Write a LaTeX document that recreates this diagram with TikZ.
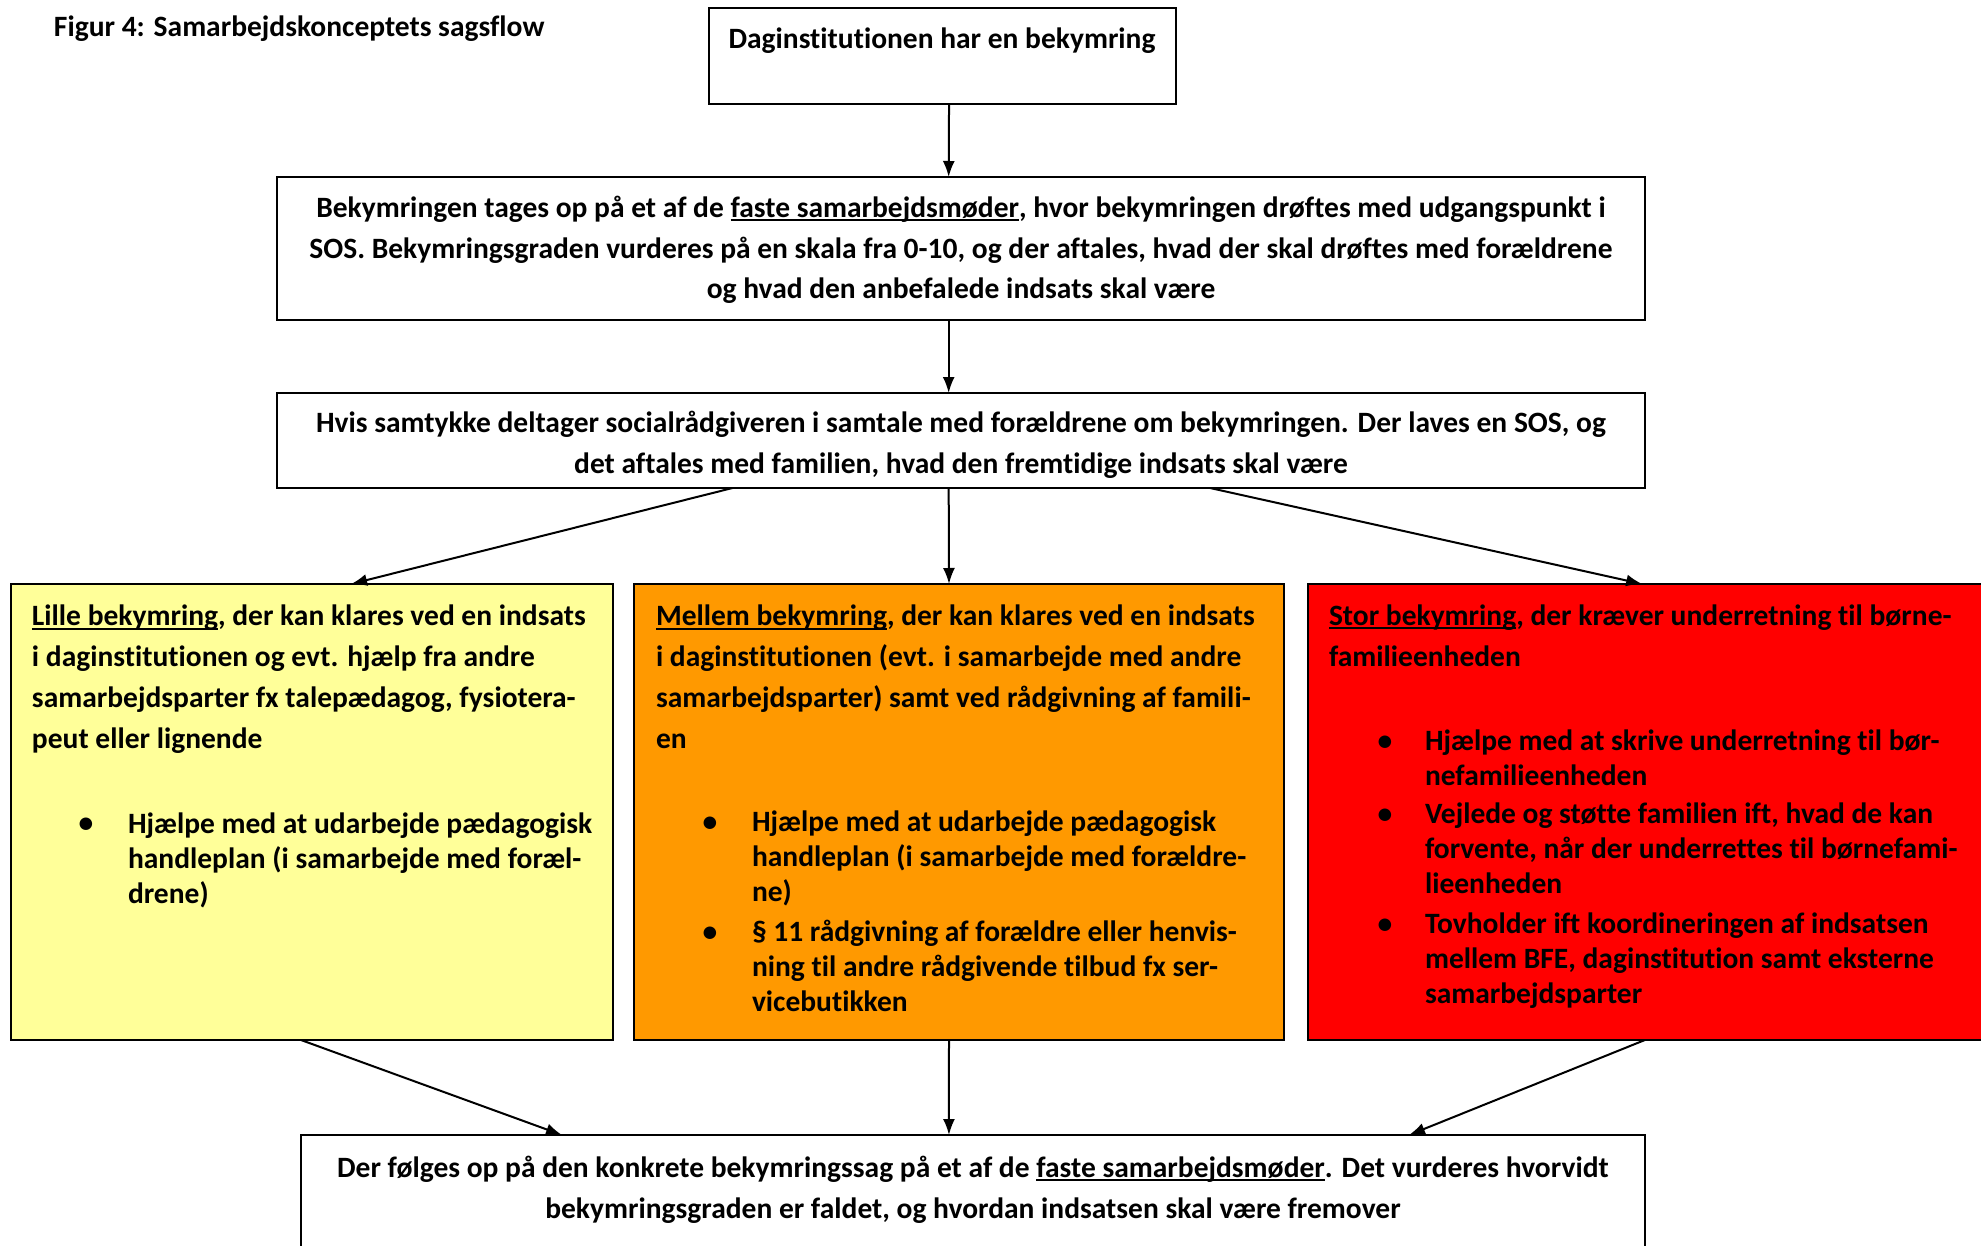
\documentclass[tikz,border=0pt]{standalone}
\usepackage{fontspec}
\setmainfont{Carlito}[RawFeature={-liga}]
\usetikzlibrary{arrows.meta,calc}
\definecolor{lyellow}{HTML}{FFFF99}
\definecolor{lorange}{HTML}{FF9900}
\definecolor{lred}{HTML}{FF0000}
\newsavebox{\ulbox}
\newcommand\myul[1]{\sbox\ulbox{#1}\rlap{\rule[-0.13em]{\wd\ulbox}{0.07em}}\usebox\ulbox}
\newcommand\fpar{\fontsize{14.75}{20.35}\selectfont\bfseries}
\newcommand\fbul{\fontsize{14.75}{17.5}\selectfont\bfseries}
\begin{document}
\begin{tikzpicture}[x=0.5pt,y=-0.5pt,
  box/.style={draw, line width=1.2pt, rectangle, inner sep=0, outer sep=0, anchor=north west},
  arr/.style={line width=1pt, -{Latex[length=8pt,width=6pt]}},
  ctext/.style={font=\fpar, inner sep=0, outer sep=0, anchor=base, align=center},
  ltext/.style={font=\fpar, inner sep=0, outer sep=0, anchor=base west, align=left},
  btext/.style={font=\fbul, inner sep=0, outer sep=0, anchor=base west, align=left},
  bdot/.style={font=\fbul, inner sep=0, outer sep=0, anchor=base}]
\useasboundingbox (0,0) rectangle (1981,1246);
\fill[white] (0,0) rectangle (1981,1246);

% boxes
\node[box, minimum width=233.5pt, minimum height=48pt] (b1) at (709,8) {};
\node[box, minimum width=684pt, minimum height=71.5pt] (b2) at (277,177) {};
\node[box, minimum width=684pt, minimum height=47.5pt] (b3) at (277,393) {};
\node[box, fill=lyellow, minimum width=301pt, minimum height=228pt] (lille) at (11,584) {};
\node[box, fill=lorange, minimum width=325pt, minimum height=228pt] (mellem) at (634,584) {};
\node[box, fill=lred, minimum width=341pt, minimum height=228pt] (stor) at (1308,584) {};
\node[box, minimum width=672pt, minimum height=65pt] (b5) at (301,1135) {};

% title
\node[ltext] (title) at (54,37) {Figur 4: Samarbejdskonceptets sagsflow};

% texts (multi-line nodes are anchored at the baseline of their last line)
\node[ctext] (t1) at (942,49) {Daginstitutionen har en bekymring};
\node[ctext] (t2) at (961,299) {Bekymringen tages op på et af de \myul{faste samarbejdsmøder}, hvor bekymringen drøftes med udgangspunkt i\\
SOS. Bekymringsgraden vurderes på en skala fra 0-10, og der aftales, hvad der skal drøftes med forældrene\\
og hvad den anbefalede indsats skal være};
\node[ctext] (t3) at (961,473) {Hvis samtykke deltager socialrådgiveren i samtale med forældrene om bekymringen. Der laves en SOS, og\\
det aftales med familien, hvad den fremtidige indsats skal være};

\node[ltext] (tl) at (32,748) {\myul{Lille bekymring}, der kan klares ved en indsats\\
i daginstitutionen og evt. hjælp fra andre\\
samarbejdsparter fx talepædagog, fysiotera-\\
peut eller lignende};
\node[bdot] (dl1) at (86,832) {•};
\node[btext] (tl1) at (128,903) {Hjælpe med at udarbejde pædagogisk\\
handleplan (i samarbejde med foræl-\\
drene)};

\node[ltext] (tm) at (656,748) {\myul{Mellem bekymring}, der kan klares ved en indsats\\
i daginstitutionen (evt. i samarbejde med andre\\
samarbejdsparter) samt ved rådgivning af famili-\\
en};
\node[bdot] (dm1) at (710,831) {•};
\node[btext] (tm1) at (752,901) {Hjælpe med at udarbejde pædagogisk\\
handleplan (i samarbejde med forældre-\\
ne)};
\node[bdot] (dm2) at (710,941) {•};
\node[btext] (tm2) at (752,1011) {§ 11 rådgivning af forældre eller henvis-\\
ning til andre rådgivende tilbud fx ser-\\
vicebutikken};

\node[ltext] (ts) at (1329,666) {\myul{Stor bekymring}, der kræver underretning til børne-\\
familieenheden};
\node[bdot] (ds1) at (1385,750) {•};
\node[btext] (ts1) at (1425,785) {Hjælpe med at skrive underretning til bør-\\
nefamilieenheden};
\node[bdot] (ds2) at (1385,823) {•};
\node[btext] (ts2) at (1425,893) {Vejlede og støtte familien ift, hvad de kan\\
forvente, når der underrettes til børnefami-\\
lieenheden};
\node[bdot] (ds3) at (1385,933) {•};
\node[btext] (ts3) at (1425,1003) {Tovholder ift koordineringen af indsatsen\\
mellem BFE, daginstitution samt eksterne\\
samarbejdsparter};

\node[ctext] (t5) at (973,1218) {Der følges op på den konkrete bekymringssag på et af de \myul{faste samarbejdsmøder}. Det vurderes hvorvidt\\
bekymringsgraden er faldet, og hvordan indsatsen skal være fremover};

% connectors
\draw[arr] ($(b1.south west)!0.514!(b1.south east)$) -- ($(b2.north west)!0.491!(b2.north east)$);
\draw[arr] ($(b2.south west)!0.491!(b2.south east)$) -- ($(b3.north west)!0.491!(b3.north east)$);
\draw[arr] ($(b3.south west)!0.333!(b3.south east)$) -- ($(lille.north west)!0.565!(lille.north east)$);
\draw[arr] ($(b3.south west)!0.491!(b3.south east)$) -- ($(mellem.north west)!0.4846!(mellem.north east)$);
\draw[arr] ($(b3.south west)!0.682!(b3.south east)$) -- ($(stor.north west)!0.49!(stor.north east)$);
\draw[arr] ($(lille.south west)!0.4817!(lille.south east)$) -- ($(b5.north west)!0.1942!(b5.north east)$);
\draw[arr] ($(mellem.south west)!0.4846!(mellem.south east)$) -- ($(b5.north west)!0.4821!(b5.north east)$);
\draw[arr] ($(stor.south west)!0.494!(stor.south east)$) -- ($(b5.north west)!0.8244!(b5.north east)$);
\end{tikzpicture}
\end{document}
